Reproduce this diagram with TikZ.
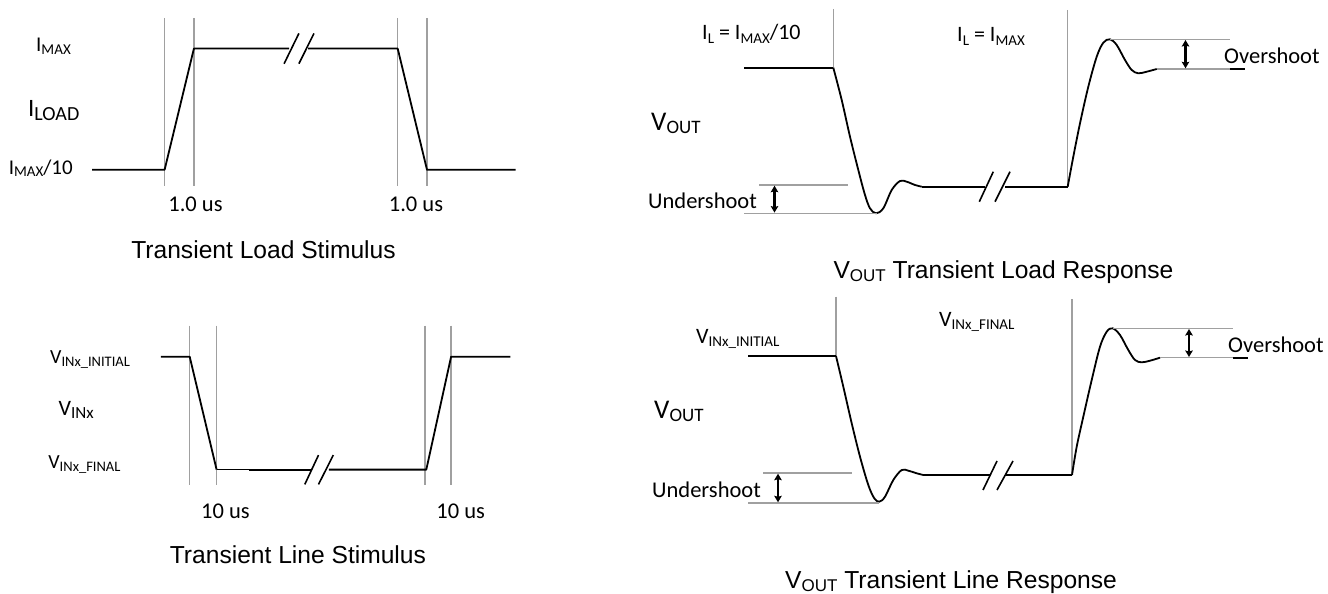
\documentclass[tikz,border=0pt]{standalone}
\usepackage{fontspec}
\setmainfont{Carlito}
\newfontfamily\arialf{Liberation Sans}
\usetikzlibrary{arrows.meta}
\definecolor{gline}{RGB}{160,160,160}
\newcommand{\fs}[1]{\fontsize{#1}{#1}\selectfont}
\newcommand{\lowsub}[2]{\raisebox{-0.14em}{\fs{#1}#2}}
\begin{document}
\begin{tikzpicture}[x=1pt,y=-1pt,
  sig/.style={line width=1.8pt,black,line join=round},
  thinsig/.style={line width=1.1pt,black},
  guide/.style={line width=1.4pt,gline},
  brk/.style={line width=1.6pt,black},
  dbl/.style={line width=2.2pt,black,{Stealth[length=6.5pt,width=7.5pt,inset=1pt]}-{Stealth[length=6.5pt,width=7.5pt,inset=1pt]}},
  lbl/.style={inner sep=0pt,anchor=base west},
  lblc/.style={inner sep=0pt,anchor=base},
  wave/.style={sig,smooth,tension=0.55}
]
\useasboundingbox (0,0) rectangle (1328,594);

% ---------- Transient Load Stimulus ----------
\foreach \x in {164.6,193.9,397.7,427.0} \draw[guide] (\x,18) -- (\x,186);
\draw[sig] (92,169.8) -- (164.6,169.8) -- (193.9,48.6) -- (289,48.6);
\draw[sig] (308,48.6) -- (397.7,48.6) -- (427,169.8) -- (515.5,169.8);
\draw[brk] (284.1,63.7) -- (298.9,33.4);
\draw[brk] (298.9,63.7) -- (314,33.4);
\node[lbl] (imax) at (36,52) {\fs{21}I\lowsub{15}{MAX}};
\node[lbl] (iload) at (28,117) {\fs{25}I\lowsub{20}{LOAD}};
\node[lbl] (imin) at (8.6,174) {\fs{21}I\lowsub{15}{MAX}/10};
\node[lblc] (t1a) at (195.5,211) {\fs{22.5}1.0 us};
\node[lblc] (t1b) at (416,211) {\fs{22.5}1.0 us};
\node[lblc] (title1) at (263.5,258) {\arialf\fs{24.6}Transient Load Stimulus};

% ---------- Transient Line Stimulus ----------
\foreach \x in {189.7,216.6,424.9,451.1} \draw[guide] (\x,325.7) -- (\x,485);
\draw[sig] (160.8,356.7) -- (189.7,356.7) -- (216.6,469.6);
\draw[thinsig] (216.6,469.6) -- (248.6,469.6);
\draw[sig] (248.6,469.6) -- (311,469.6);
\draw[sig] (328.9,469.6) -- (426.3,469.6) -- (451.1,356.7) -- (510.3,356.7);
\draw[brk] (304.8,484.4) -- (318.5,455.1);
\draw[brk] (318.5,484.4) -- (333.3,455.1);
\node[lbl] (vinit) at (50,363.6) {\fs{20}V\lowsub{14.5}{INx\_INITIAL}};
\node[lbl] (vinx) at (58.5,415.5) {\fs{22}V\lowsub{17}{INx}};
\node[lbl] (vfin) at (48.2,468.9) {\fs{20}V\lowsub{14.5}{INx\_FINAL}};
\node[lblc] (t2a) at (225.5,518) {\fs{22.5}10 us};
\node[lblc] (t2b) at (460.7,518) {\fs{22.5}10 us};
\node[lblc] (title2) at (297.9,563.6) {\arialf\fs{24.6}Transient Line Stimulus};

% ---------- VOUT Transient Load Response ----------
\draw[guide] (833.3,9) -- (833.3,67.7);
\draw[guide] (1067.7,10) -- (1067.7,186.7);
\draw[sig] (744,67.7) -- (833.3,67.7);
\draw[wave] plot coordinates {(833.3,67.7) (841.7,100) (850,136.7) (858.3,170) (865,195) (870,208.3) (876,213.3) (883.3,208.3) (891.7,190) (900,181) (906.7,181.7) (915,185) (921.7,186.7)};
\draw[sig] (921.7,186.7) -- (985,186.7);
\draw[sig] (1005,186.7) -- (1067.7,186.7);
\draw[brk] (979.3,201.7) -- (993.3,171.7);
\draw[brk] (995,201.7) -- (1010,171.7);
\draw[wave] plot coordinates {(1067.7,186.7) (1073.3,156.7) (1080,123.3) (1088.3,86.7) (1096.7,56.7) (1103.3,42.7) (1110,39.3) (1116.7,45) (1125,60) (1131.7,70) (1138.3,73.3) (1146.7,71.7) (1156.7,69)};
\draw[guide] (1110,39.3) -- (1230,39.3);
\draw[guide] (1156.7,69) -- (1230,69);
\draw[sig] (1230,69) -- (1245,69);
\draw[dbl] (1185.5,40) -- (1185.5,68.3);
\draw[guide] (759.3,185) -- (848.3,185);
\draw[guide] (744,213.3) -- (876.5,213.3);
\draw[dbl] (774.5,185.7) -- (774.5,212.6);
\node[lbl] (il1) at (702,40) {\fs{22}I\lowsub{15}{L} = I\lowsub{15}{MAX}/10};
\node[lbl] (il2) at (957,42) {\fs{22}I\lowsub{15}{L} = I\lowsub{15}{MAX}};
\node[lbl] (vout1) at (651,130) {\fs{27}V\lowsub{19}{OUT}};
\node[lbl] (us1) at (648,208.5) {\fs{22.5}Undershoot};
\node[lbl] (os1) at (1224,63.3) {\fs{22.5}Overshoot};
\node[lbl] (title3) at (833.3,278.3) {\arialf\fs{24.6}V\lowsub{17}{OUT} Transient Load Response};

% ---------- VOUT Transient Line Response ----------
\draw[guide] (836,296.7) -- (836,356);
\draw[guide] (1072,299) -- (1072,475);
\draw[sig] (748,356) -- (836,356);
\draw[wave] plot coordinates {(836,356) (843.3,386.7) (851.7,423.3) (860,456.7) (868.3,485) (874.3,498.3) (879.3,501.7) (885,496.7) (893.3,480) (901.7,470) (908.3,470.7) (916.7,473.3) (923.3,475)};
\draw[sig] (923.3,475) -- (990,475);
\draw[sig] (1005,475) -- (1072,475);
\draw[brk] (983,490) -- (997,461);
\draw[brk] (997,490) -- (1013,461);
\draw[wave] plot coordinates {(1072,475) (1076.7,446.7) (1083.3,416.7) (1091.7,380) (1100,346.7) (1106.7,331.7) (1112.7,328.3) (1120,335) (1128.3,350) (1135,360) (1141.7,362.3) (1150,360.7) (1160,357.7)};
\draw[guide] (1112.7,328.3) -- (1233,328.3);
\draw[guide] (1160,357.7) -- (1233,357.7);
\draw[sig] (1233,357.7) -- (1248,357.7);
\draw[dbl] (1189,329) -- (1189,357);
\draw[guide] (763,473) -- (852,473);
\draw[guide] (748,503) -- (879.3,503);
\draw[dbl] (778,473.7) -- (778,502.3);
\node[lbl] (vinit2) at (696,343) {\fs{22}V\lowsub{15}{INx\_INITIAL}};
\node[lbl] (vfin2) at (939,326.7) {\fs{22}V\lowsub{15}{INx\_FINAL}};
\node[lbl] (vout2) at (654,418) {\fs{27}V\lowsub{19}{OUT}};
\node[lbl] (us2) at (652,497) {\fs{22.5}Undershoot};
\node[lbl] (os2) at (1228,352.7) {\fs{22.5}Overshoot};
\node[lbl] (title4) at (785,588) {\arialf\fs{24.6}V\lowsub{17}{OUT} Transient Line Response};
\end{tikzpicture}
\end{document}
